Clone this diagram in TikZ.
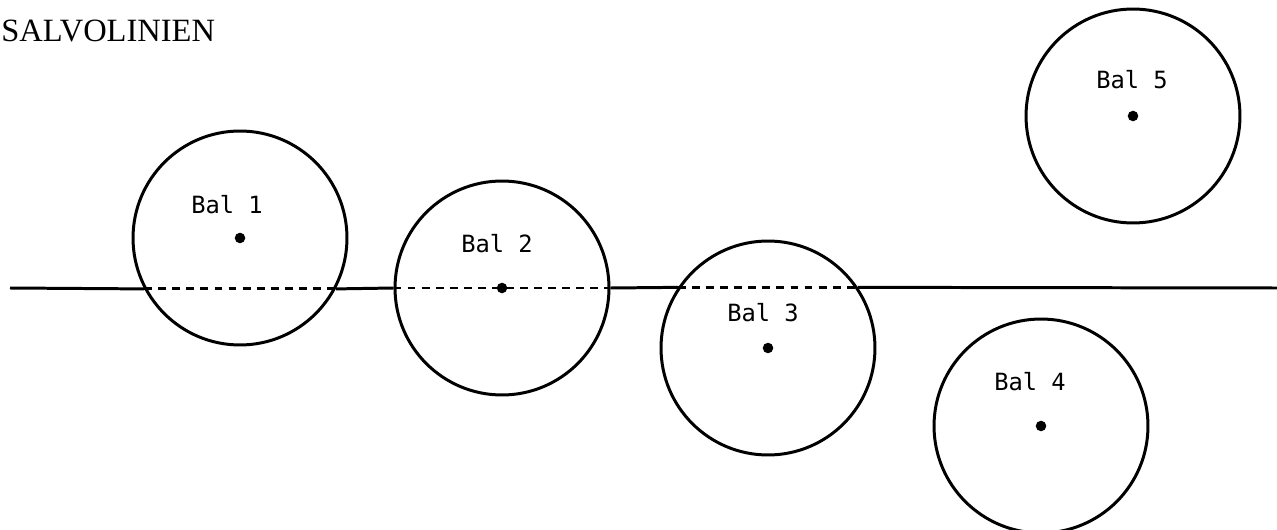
\documentclass[tikz,border=0pt]{standalone}
\usepackage{fontspec}
\setmainfont{Liberation Serif}
\setmonofont{DejaVu Sans Mono}
\usetikzlibrary{positioning}

\begin{document}
\begin{tikzpicture}[x=0.02cm, y=-0.02cm,
    ball/.style={circle, draw, line width=1.7pt, minimum size=4.28cm, inner sep=0pt},
    centre/.style={circle, fill, inner sep=0pt, minimum size=6pt},
    tag/.style={font=\ttfamily\fontsize{13.5}{15}\selectfont},
    salvo/.style={line width=1.7pt},
    chord/.style={salvo, dash pattern=on 4.5pt off 3.5pt}]
    \useasboundingbox (0,0) rectangle (1277,530);

    % Title
    \node[anchor=base west, inner sep=0pt, font=\fontsize{18.5}{22}\selectfont] (title) at (1,42) {SALVOLINIEN};

    % Balls with centre and name
    \foreach \n/\x/\y/\dx/\dy in {1/240/238/-13/-33, 2/502/288/-5/-44, 3/768/348/-5/-35,
                                  4/1041/426/-11/-44, 5/1133/116/-1/-36} {
        \node[ball] (bal\n) at (\x,\y) {};
        \node[centre] (c\n) at (\x,\y) {};
        \node[tag] (t\n) at (\x+\dx,\y+\dy) {Bal \n};
    }

    % Salvo line, dashed where it runs through a ball
    \coordinate (start) at (10,288);
    \coordinate (stop) at (1277,288);
    \draw[salvo] (start) -- (bal1.208);
    \draw[chord] (bal1.208) -- (bal1.-28);
    \draw[salvo] (bal1.-28) -- (bal2.west);
    \draw[chord] (bal2.west) -- (bal2.east);
    \draw[salvo] (bal2.east) -- (bal3.146);
    \draw[chord] (bal3.146) -- (bal3.34);
    \draw[salvo] (bal3.34) -- (stop);
\end{tikzpicture}
\end{document}
